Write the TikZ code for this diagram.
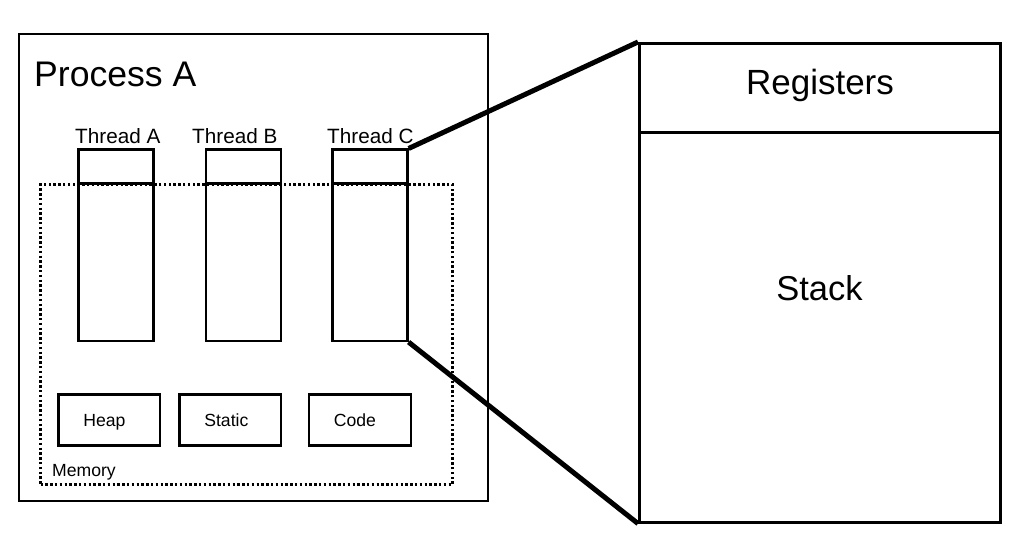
\documentclass[tikz,border=0pt]{standalone}
\usepackage{fontspec}
\setmainfont{Liberation Sans}
\begin{document}
\begin{tikzpicture}[x=1pt,y=-1pt,
  rectbox/.style={draw, line width=2.6pt, inner sep=0pt, anchor=north west},
  membox/.style={draw, line width=2.4pt, dash pattern=on 2.4pt off 2.4pt, inner sep=0pt, anchor=north west},
  zoomline/.style={line width=5pt},
  bigtxt/.style={font=\fontsize{35}{40}\selectfont, inner sep=0pt},
  thrtxt/.style={font=\fontsize{20.7}{24}\selectfont, inner sep=0pt, anchor=base west},
  smalltxt/.style={font=\fontsize{17.6}{21}\selectfont},
  segbox/.style={rectbox, smalltxt, minimum height=51pt, text height=13pt, text depth=0pt}
]
\useasboundingbox (0,0) rectangle (1025,540);
% process
\node[rectbox, line width=2.4pt, minimum width=469pt, minimum height=467pt] (proc) at (18,33) {};
\node[bigtxt, font=\fontsize{35.6}{40}\selectfont, anchor=base west] (ptitle) at (34,86.7) {Process A};
% memory
\node[membox, minimum width=412pt, minimum height=300pt] (mem) at (39.3,183.3) {};
\node[smalltxt, inner sep=0pt, anchor=base west] (memlbl) at (52,476.7) {Memory};
% threads
\node[rectbox, minimum width=75pt, minimum height=191pt] (tA) at (77,148.5) {};
\node[rectbox, minimum width=75pt, minimum height=191pt] (tB) at (204.5,148.5) {};
\node[rectbox, minimum width=75pt, minimum height=191pt] (tC) at (331,148.5) {};
\foreach \t in {tA,tB,tC}{
  \draw[line width=2.6pt] (\t.west |- 0,183.3) -- (\t.east |- 0,183.3);
}
\node[thrtxt] (lA) at (75,143.3) {Thread A};
\node[thrtxt] (lB) at (192,143.3) {Thread B};
\node[thrtxt] (lC) at (327,143.3) {Thread C};
% segments
\node[segbox, minimum width=101.5pt] (heap) at (57.3,393.3) {Heap\hspace*{10pt}};
\node[segbox, minimum width=101.5pt] (static) at (178.3,393.3) {Static\hspace*{8pt}};
\node[segbox, minimum width=102pt] (code) at (307.7,393.3) {Code\hspace*{10pt}};
% right enlarged view
\node[rectbox, minimum width=361pt, minimum height=89pt] (regs) at (638,42) {};
\node[rectbox, minimum width=361pt, minimum height=390pt] (stack) at (638,131) {};
\node[bigtxt, anchor=base] (rlbl) at (820,95) {Registers};
\node[bigtxt, font=\fontsize{34.5}{40}\selectfont, anchor=base] (slbl) at (819.5,300) {Stack};
% zoom lines
\draw[zoomline] (tC.north east) -- (regs.north west);
\draw[zoomline] (tC.south east) -- (stack.south west);
\end{tikzpicture}
\end{document}
